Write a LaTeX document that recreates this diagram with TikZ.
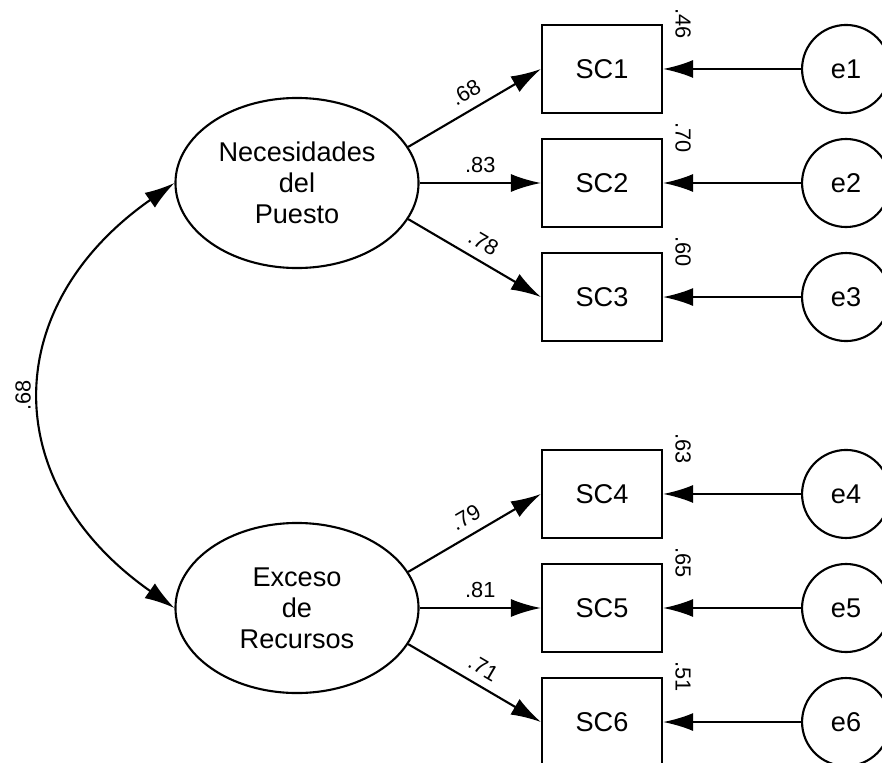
\documentclass[tikz,border=0pt]{standalone}
\usepackage{fontspec}
\setmainfont{Liberation Sans}
\usetikzlibrary{arrows.meta,shapes.geometric}

\begin{document}
\begin{tikzpicture}[x=0.025cm, y=-0.025cm, node distance=2.85cm,
    latent/.style={ellipse, draw, line width=1.5pt, minimum width=6.075cm, minimum height=4.25cm, align=center, font=\fontsize{19.3}{22}\selectfont},
    indicator/.style={rectangle, draw, line width=1.5pt, minimum width=3cm, minimum height=2.2cm, font=\fontsize{19.3}{22}\selectfont},
    err/.style={circle, draw, line width=1.5pt, minimum size=2.2cm, inner sep=0pt, font=\fontsize{19.3}{22}\selectfont},
    load/.style={-{Latex[length=7.5mm, width=4.5mm]}, line width=1.5pt},
    coef/.style={font=\fontsize{15.5}{17}\selectfont},
    resid/.style={font=\fontsize{15.5}{17}\selectfont, rotate=-90}]

    \useasboundingbox (0,0) rectangle (882,763);

    % Necesidades del Puesto and its indicators
    \node (nec) [latent] at (297,183) {Necesidades\\del\\Puesto};
    \node (sc2) [indicator] at (602,183) {SC2};
    \node (sc1) [indicator, above of=sc2] {SC1};
    \node (sc3) [indicator, below of=sc2] {SC3};

    % Exceso de Recursos and its indicators
    \node (exc) [latent] at (297,608) {Exceso\\de\\Recursos};
    \node (sc5) [indicator] at (602,608) {SC5};
    \node (sc4) [indicator, above of=sc5] {SC4};
    \node (sc6) [indicator, below of=sc5] {SC6};

    % Error terms
    \node (e1) [err, right of=sc1, node distance=6.1cm] {e1};
    \node (e2) [err, right of=sc2, node distance=6.1cm] {e2};
    \node (e3) [err, right of=sc3, node distance=6.1cm] {e3};
    \node (e4) [err, right of=sc4, node distance=6.1cm] {e4};
    \node (e5) [err, right of=sc5, node distance=6.1cm] {e5};
    \node (e6) [err, right of=sc6, node distance=6.1cm] {e6};

    % Squared multiple correlations
    \node (r1) [resid] at ([xshift=0.5cm]sc1.north east) {.46};
    \node (r2) [resid] at ([xshift=0.5cm]sc2.north east) {.70};
    \node (r3) [resid] at ([xshift=0.5cm]sc3.north east) {.60};
    \node (r4) [resid] at ([xshift=0.5cm]sc4.north east) {.63};
    \node (r5) [resid] at ([xshift=0.5cm]sc5.north east) {.65};
    \node (r6) [resid] at ([xshift=0.5cm]sc6.north east) {.51};

    % Loadings
    \draw[load] (nec.18) -- (sc1.west) node[midway, sloped, above=3pt, coef] {.68};
    \draw[load] (nec.east) -- (sc2.west) node[midway, above=3pt, coef] {.83};
    \draw[load] (nec.-18) -- (sc3.west) node[midway, sloped, above=3pt, coef] {.78};
    \draw[load] (exc.18) -- (sc4.west) node[midway, sloped, above=3pt, coef] {.79};
    \draw[load] (exc.east) -- (sc5.west) node[midway, above=3pt, coef] {.81};
    \draw[load] (exc.-18) -- (sc6.west) node[midway, sloped, above=3pt, coef] {.71};

    % Errors into indicators
    \foreach \i in {1,...,6}
        \draw[load] (e\i) -- (sc\i.east);

    % Covariance between the factors
    \draw[{Latex[length=7.5mm, width=4.5mm]}-{Latex[length=7.5mm, width=4.5mm]}, line width=1.5pt]
        (nec.west) to[bend right=55, looseness=1.3] node[midway, xshift=-0.475cm, rotate=90, coef] {.68} (exc.west);

\end{tikzpicture}
\end{document}
